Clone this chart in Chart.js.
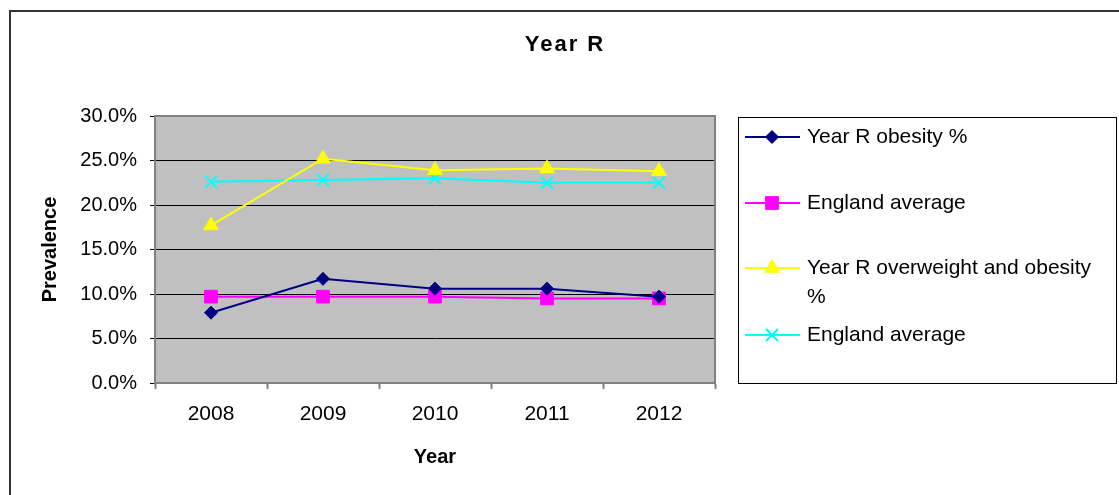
<!DOCTYPE html>
<html>
<head>
<meta charset="utf-8">
<title>Year R</title>
<script src="https://cdn.jsdelivr.net/npm/chart.js@4"></script>
<style>
  html, body { margin: 0; padding: 0; background: #fff; }
  #wrap { width: 1119px; height: 495px; }
</style>
</head>
<body>
<div id="wrap"><canvas id="chart-yearr" width="1119" height="495"></canvas></div>
<script>
// Year R prevalence, percent
const years = ["2008", "2009", "2010", "2011", "2012"];
const obesity = [7.9, 11.7, 10.6, 10.6, 9.7];
const englandObesity = [9.7, 9.7, 9.7, 9.5, 9.5];
const overweight = [17.7, 25.2, 23.9, 24.1, 23.8];
const englandOverweight = [22.6, 22.8, 23.0, 22.5, 22.5];
const seriesNames = [
  "Year R obesity %",
  "England average",
  "Year R overweight and obesity %",
  "England average",
];
const chartTitle = "Year R";

const FONT = "'Liberation Sans', Arial, sans-serif";

// grey plot area, outer frame and the centred chart title
const plotBackground = {
  id: "plotBackground",
  beforeDraw(chart) {
    const { ctx, chartArea: a } = chart;
    ctx.save();
    ctx.fillStyle = "#c0c0c0";
    ctx.fillRect(a.left, a.top, a.right - a.left, a.bottom - a.top);
    ctx.strokeStyle = "#333";
    ctx.lineWidth = 2;
    ctx.strokeRect(10, 11, chart.width + 20, chart.height + 20);

    ctx.fillStyle = "#000";
    ctx.font = "bold 22px " + FONT;
    ctx.letterSpacing = "2px";
    ctx.textAlign = "center";
    ctx.textBaseline = "middle";
    ctx.fillText(chartTitle, 565, 45);
    ctx.restore();
  },
  beforeDatasetsDraw(chart) {
    const { ctx, chartArea: a } = chart;
    ctx.save();
    ctx.strokeStyle = "#808080";
    ctx.lineWidth = 2;
    ctx.strokeRect(a.left, a.top, a.right - a.left, a.bottom - a.top);
    ctx.restore();
  },
};

// boxed legend on the right, drawn from the datasets
const boxLegend = {
  id: "boxLegend",
  afterDraw(chart) {
    const { ctx } = chart;
    const box = { x: 738, y: 117, w: 378, h: 266 };
    const rows = [137, 203, 268, 335];
    ctx.save();
    ctx.fillStyle = "#fff";
    ctx.fillRect(box.x, box.y, box.w, box.h);
    ctx.strokeStyle = "#000";
    ctx.lineWidth = 1;
    ctx.strokeRect(box.x + 0.5, box.y + 0.5, box.w, box.h);

    ctx.font = "21px " + FONT;
    ctx.textBaseline = "middle";
    chart.data.datasets.forEach((ds, i) => {
      const y = rows[i];
      ctx.strokeStyle = ds.borderColor;
      ctx.lineWidth = 2;
      ctx.beginPath();
      ctx.moveTo(745, y);
      ctx.lineTo(800, y);
      ctx.stroke();
      ctx.fillStyle = ds.pointBackgroundColor;
      ctx.strokeStyle = ds.pointBorderColor;
      ctx.lineWidth = ds.pointBorderWidth;
      Chart.helpers.drawPoint(ctx, {
        pointStyle: ds.pointStyle,
        radius: ds.pointRadius,
        rotation: 0,
        borderWidth: ds.pointBorderWidth,
      }, 772, y);

      // wrap long labels inside the box
      ctx.fillStyle = "#000";
      const words = ds.label.split(" ");
      let line = "";
      let ly = y;
      words.forEach((w) => {
        const test = line ? line + " " + w : w;
        if (ctx.measureText(test).width > 302 && line) {
          ctx.fillText(line, 807, ly);
          line = w;
          ly += 29;
        } else {
          line = test;
        }
      });
      ctx.fillText(line, 807, ly);
    });
    ctx.restore();
  },
};

function series(label, data, color, style, radius) {
  return {
    label,
    data,
    borderColor: color,
    backgroundColor: color,
    borderWidth: 2,
    pointStyle: style,
    pointRadius: radius,
    pointHoverRadius: radius,
    pointBackgroundColor: color,
    pointBorderColor: color,
    pointBorderWidth: style === "crossRot" ? 2 : 1,
    tension: 0,
    fill: false,
  };
}

new Chart(document.getElementById("chart-yearr"), {
  type: "line",
  data: {
    labels: years,
    datasets: [
      series(seriesNames[0], obesity, "#000080", "rectRot", 6.5),
      series(seriesNames[1], englandObesity, "#ff00ff", "rect", 9),
      series(seriesNames[2], overweight, "#ffff00", "triangle", 8.5),
      series(seriesNames[3], englandOverweight, "#00ffff", "crossRot", 8.5),
    ],
  },
  options: {
    responsive: false,
    animation: false,
    layout: { padding: { left: 34, right: 404, top: 116, bottom: 22 } },
    scales: {
      x: {
        offset: true,
        grid: {
          offset: true,
          drawOnChartArea: false,
          tickLength: 6,
          tickColor: "#808080",
          tickWidth: 2,
        },
        border: { color: "#808080", width: 2 },
        ticks: { color: "#000", padding: 13, font: { family: FONT, size: 21 } },
        title: {
          display: true,
          text: "Year",
          color: "#000",
          font: { family: FONT, size: 20, weight: "bold" },
          padding: { top: 4, bottom: 4 },
        },
        afterFit: (s) => { s.height = 90; },
      },
      y: {
        min: 0,
        max: 30,
        grid: { color: "#000", lineWidth: 1, tickLength: 5, tickColor: "#000" },
        border: { color: "#808080", width: 2 },
        ticks: {
          stepSize: 5,
          color: "#000",
          padding: 13,
          font: { family: FONT, size: 20 },
          callback: (v) => v.toFixed(1) + "%",
        },
        title: {
          display: true,
          text: "Prevalence",
          color: "#000",
          font: { family: FONT, size: 20, weight: "bold" },
          padding: { top: 4, bottom: 4 },
        },
        afterFit: (s) => { s.width = 121; },
      },
    },
    plugins: {
      legend: { display: false },
      tooltip: { enabled: false },
      title: { display: false },
    },
  },
  plugins: [plotBackground, boxLegend],
});
</script>
</body>
</html>
